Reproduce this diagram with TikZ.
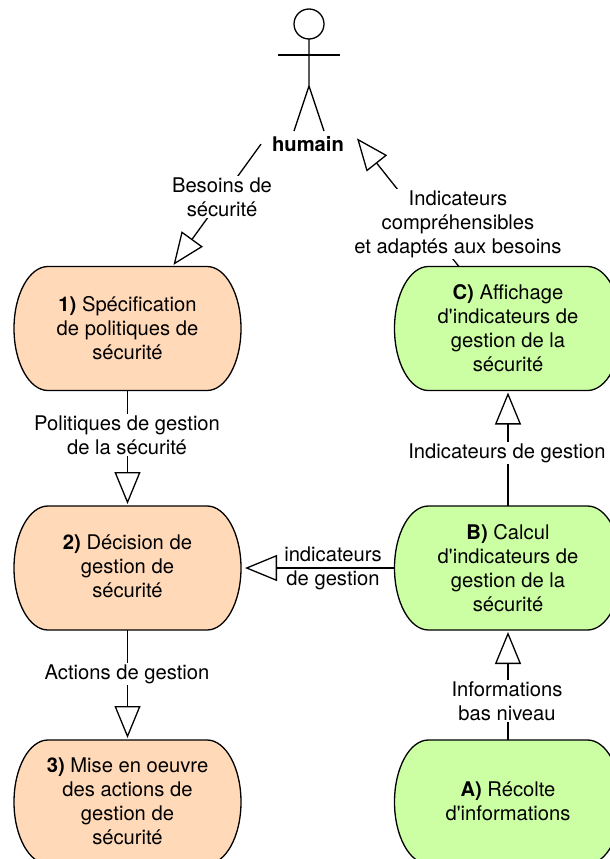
\documentclass[tikz,border=0pt]{standalone}
\usepackage{fontspec}
\setmainfont{TeX Gyre Heros}[Ligatures=TeXOff]
\usetikzlibrary{arrows.meta}
\definecolor{peach}{HTML}{FFD9B8}
\definecolor{lime}{HTML}{CCFFA3}
\tikzset{
  x=1pt,y=1pt,
  ln/.style={line width=1.3pt,black},
  boxtext/.style={rectangle,minimum width=227pt,minimum height=124pt,inner sep=0pt,outer sep=0pt,align=center},
  labeltext/.style={align=center,font=\fontsize{20.2}{24}\selectfont},
  lbl/.style={labeltext,fill=white,inner sep=1pt,outer sep=0pt},
  conn/.style={ln,-{Triangle[open,length=32pt,width=26pt,line width=1.3pt]}},
  actorbox/.style={rectangle,minimum width=96pt,minimum height=148pt,inner sep=0pt,outer sep=0pt}
}
% #1 name, #2 cx, #3 cy, #4 fill, #5 text shift, #6 text
\newcommand{\procbox}[6]{%
  \draw[ln,fill=#4] (#2-79.5,#3+62) -- (#2+79.5,#3+62)
    arc[start angle=90,end angle=-90,x radius=34,y radius=62]
    -- (#2-79.5,#3-62)
    arc[start angle=270,end angle=90,x radius=34,y radius=62] -- cycle;
  \node[boxtext] (#1) at (#2,#3) {};
  \node[labeltext] (#1t) at (#2,#3+#5) {#6};
}
\begin{document}
\begin{tikzpicture}
\useasboundingbox (0,0) rectangle (610,-859);
\clip (0,0) rectangle (610,-859);
\procbox{one}{127.5}{-328.5}{peach}{0.5}{\textbf{1)} Spécification\\de politiques de\\sécurité}
\procbox{two}{127.5}{-568}{peach}{2}{\textbf{2)} Décision de\\gestion de\\sécurité}
\procbox{three}{127.5}{-802}{peach}{1}{\textbf{3)} Mise en oeuvre\\des actions de\\gestion de\\sécurité}
\procbox{C}{508}{-328.5}{lime}{0.5}{\textbf{C)} Affichage\\d'indicateurs de\\gestion de la\\sécurité}
\procbox{B}{508}{-568}{lime}{0}{\textbf{B)} Calcul\\d'indicateurs de\\gestion de la\\sécurité}
\procbox{A}{508}{-802}{lime}{1}{\textbf{A)} Récolte\\d'informations}
% actor
\node[actorbox] (actor) at (309,-78) {};
\draw[ln] (309,-24) circle[radius=15];
\draw[ln] (309,-39) -- (309,-86) -- (294,-131);
\draw[ln] (309,-86) -- (324,-131);
\draw[ln] (278,-55) -- (340,-55);
\node[font=\fontsize{20.2}{24}\selectfont\bfseries] (humain) at (308,-144) {humain};
% connectors
\draw[conn,shorten >=2pt] (actor) -- (one);
\draw[conn] (C) -- (actor);
\draw[conn,shorten >=2pt] (one) -- (two);
\draw[conn,shorten >=2pt] (two) -- (three);
\draw[conn,shorten >=4pt] (B) -- (two);
\draw[conn,shorten >=2pt] (B) -- (C);
\draw[conn,shorten >=2pt] (A) -- (B);
% labels
\node[lbl] (l1) at (222,-197) {Besoins de\\sécurité};
\node[lbl] (l2) at (458,-224) {Indicateurs\\compréhensibles\\et adaptés aux besoins};
\node[lbl] (l3) at (127,-435) {Politiques de gestion\\de la sécurité};
\node[lbl] (l4) at (127,-674) {Actions de gestion};
\node[lbl] (l5) at (507,-453) {Indicateurs de gestion};
\node[labeltext,inner sep=1pt] (l6) at (333,-568) {indicateurs\\de gestion};
\node[lbl] (l7) at (507,-701) {Informations\\bas niveau};
\end{tikzpicture}
\end{document}
